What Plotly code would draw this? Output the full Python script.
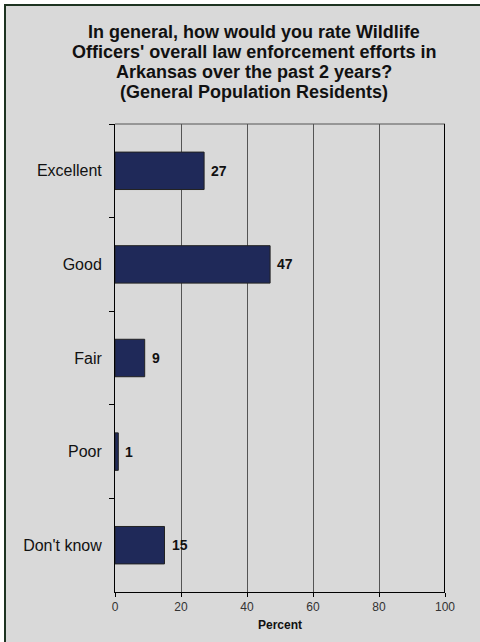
import plotly.graph_objects as go

categories = ["Excellent", "Good", "Fair", "Poor", "Don't know"]
values = [27, 47, 9, 1, 15]
x_ticks = [0, 20, 40, 60, 80, 100]
title_lines = [
    "In general, how would you rate Wildlife",
    "Officers' overall law enforcement efforts in",
    "Arkansas over the past 2 years?",
    "(General Population Residents)",
]
x_title = "Percent"

W, H = 480, 642
L, R, T, B = 115, 445, 124, 592
pw, ph = R - L, B - T

def px_x(p):
    return (p - L) / pw

def px_y(p):
    return (B - p) / ph

FONT = "Arial, Liberation Sans, sans-serif"

fig = go.Figure()
fig.add_trace(go.Bar(
    y=categories, x=values, orientation="h",
    marker=dict(color="#1f2959", line=dict(color="#222222", width=1)),
    hoverinfo="skip",
))

for c, v in zip(categories, values):
    fig.add_annotation(x=v, y=c, xref="x", yref="y", text=f"<b>{v}</b>",
                       showarrow=False, xanchor="left", xshift=5,
                       font=dict(family=FONT, size=14, color="#111111"))

# title lines (tight 20px line spacing like the original)
for i, line in enumerate(title_lines):
    fig.add_annotation(x=px_x(254), y=px_y(32 + 20 * i), xref="paper", yref="paper",
                       text=f"<b>{line}</b>", showarrow=False,
                       xanchor="center", yanchor="middle",
                       font=dict(family=FONT, size=18, color="#111111"))

shapes = [
    dict(type="rect", xref="paper", yref="paper", layer="below",
         x0=px_x(5), x1=px_x(505), y0=px_y(665), y1=px_y(5),
         fillcolor="#d9d9d9", line=dict(color="#1e3321", width=2)),
    dict(type="line", xref="paper", yref="paper", x0=0, x1=1, y0=1, y1=1,
         line=dict(color="#555555", width=1)),
    dict(type="line", xref="x", yref="paper", x0=100, x1=100, y0=0, y1=1,
         line=dict(color="#000000", width=2)),
]

fig.update_layout(
    width=W, height=H,
    margin=dict(l=L, r=W - R, t=T, b=H - B, pad=0),
    paper_bgcolor="white",
    plot_bgcolor="rgba(0,0,0,0)",
    showlegend=False,
    bargap=0.6,
    shapes=shapes,
    xaxis=dict(range=[0, 100], tickvals=x_ticks, showgrid=True,
               gridcolor="#555555", gridwidth=1,
               showline=True, linecolor="#000000", linewidth=1,
               ticks="outside", ticklen=4, tickcolor="#000000",
               tickfont=dict(family=FONT, size=12, color="#333333"),
               zeroline=False, fixedrange=True,
               title=dict(text=f"<b>{x_title}</b>", standoff=7,
                          font=dict(family=FONT, size=12, color="#111111"))),
    yaxis=dict(autorange="reversed", categoryorder="array", categoryarray=categories,
               showline=True, linecolor="#000000", linewidth=1,
               ticks="outside", ticklen=5, tickcolor="#000000", tickson="boundaries",
               ticklabelstandoff=9, showgrid=False,
               tickfont=dict(family=FONT, size=16, color="#111111"),
               fixedrange=True),
)

fig.write_html("out.html")
